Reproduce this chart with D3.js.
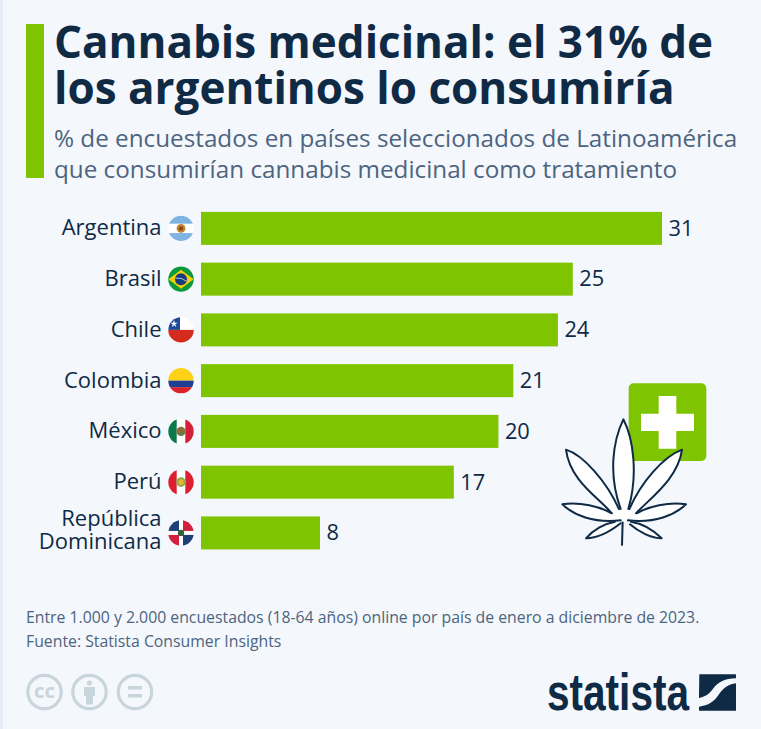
<!DOCTYPE html>
<html>
<head>
<meta charset="utf-8">
<style>
html, body { margin: 0; padding: 0; background: #f4f7fb; }
svg { display: block; font-family: "Open Sans", sans-serif; }
</style>
<script src="https://d3js.org/d3.v7.min.js"></script>
</head>
<body>
<svg id="chart" width="761" height="729"></svg>
<script>
// data
var countries = ["Argentina", "Brasil", "Chile", "Colombia", "México", "Perú", "República Dominicana"];
var values = [31, 25, 24, 21, 20, 17, 8];
var flagCodes = ["ar", "br", "cl", "co", "mx", "pe", "do"];
var titleLines = ["Cannabis medicinal: el 31% de", "los argentinos lo consumiría"];
var subtitleLines = ["% de encuestados en países seleccionados de Latinoamérica", "que consumirían cannabis medicinal como tratamiento"];
var noteLines = ["Entre 1.000 y 2.000 encuestados (18-64 años) online por país de enero a diciembre de 2023.", "Fuente: Statista Consumer Insights"];

var navy = "#0f2a45", green = "#7ec400", slate = "#4d6480";

var svg = d3.select("#chart");
svg.append("rect").attr("width", 761).attr("height", 729).attr("fill", "#f4f7fb");
svg.append("rect").attr("width", 3).attr("height", 729).attr("fill", "#e6ecf5");

// header
svg.append("rect").attr("x", 26).attr("y", 24).attr("width", 18).attr("height", 154).attr("fill", green);
svg.selectAll(".title").data(titleLines).enter().append("text")
    .attr("class", "title")
    .attr("x", 54)
    .attr("y", function(d, i) { return 58 + i * 46; })
    .attr("font-size", 44)
    .attr("font-weight", 700)
    .attr("fill", navy)
    .text(function(d) { return d; });
svg.selectAll(".subtitle").data(subtitleLines).enter().append("text")
    .attr("class", "subtitle")
    .attr("x", 54)
    .attr("y", function(d, i) { return 147 + i * 31; })
    .attr("font-size", 24.25)
    .attr("fill", slate)
    .text(function(d) { return d; });

// bars
var x = d3.scaleLinear().domain([0, 31]).range([201, 662]);
var y = d3.scaleBand().domain(countries).range([203, 558.3]).paddingInner(0.35).paddingOuter(0.175);

svg.selectAll(".bar").data(countries).enter().append("rect")
    .attr("class", "bar")
    .attr("x", x(0))
    .attr("y", function(d) { return y(d); })
    .attr("width", function(d, i) { return x(values[i]) - x(0); })
    .attr("height", y.bandwidth())
    .attr("fill", green);

svg.selectAll(".value").data(countries).enter().append("text")
    .attr("class", "value")
    .attr("x", function(d, i) { return x(values[i]) + 6.5; })
    .attr("y", function(d) { return y(d) + y.bandwidth() / 2 - 0.5; })
    .attr("dy", "0.36em")
    .attr("font-size", 21.8)
    .attr("fill", navy)
    .text(function(d, i) { return values[i]; });

// category labels, the long one goes on two lines
svg.selectAll(".cat").data(countries).enter().append("text")
    .attr("class", "cat")
    .attr("text-anchor", "end")
    .attr("font-size", 22)
    .attr("fill", navy)
    .each(function(d) {
        var parts = d.length > 12 ? d.split(" ") : [d];
        var mid = y(d) + y.bandwidth() / 2 + (parts.length > 1 ? -3 : -0.5);
        var sel = d3.select(this);
        parts.forEach(function(p, i) {
            sel.append("tspan")
                .attr("x", 161.5)
                .attr("y", mid + 7.5 + (i - (parts.length - 1) / 2) * 23)
                .text(p);
        });
    });

// flags
var defs = svg.append("defs");
defs.append("clipPath").attr("id", "flagClip").append("circle").attr("r", 12.7);

function band(g, color, bx, by, w, h) {
    g.append("rect").attr("x", bx).attr("y", by).attr("width", w).attr("height", h).attr("fill", color);
}
function dot(g, color, r, cx, cy) {
    g.append("circle").attr("cx", cx || 0).attr("cy", cy || 0).attr("r", r).attr("fill", color);
}
var flagDraw = {
    ar: function(g) {
        band(g, "#fff", -13, -13, 26, 26);
        band(g, "#7eb3e2", -13, -13, 26, 8.3);
        band(g, "#7eb3e2", -13, 4.7, 26, 9);
        dot(g, "#c9822a", 4.4);
        dot(g, "#8a4a1c", 2.2);
    },
    br: function(g) {
        band(g, "#0a9a3c", -13, -13, 26, 26);
        g.append("path").attr("d", "M-12.5,0L0,-9.5L12.5,0L0,9.5Z").attr("fill", "#f6d000");
        dot(g, "#173a80", 6);
        g.append("path").attr("d", "M-5.5,-1Q0,-2 5.5,2").attr("fill", "none").attr("stroke", "#dfe8f0").attr("stroke-width", 0.8);
    },
    cl: function(g) {
        band(g, "#fff", -13, -13, 26, 13);
        band(g, "#d52b1e", -13, 0, 26, 13);
        band(g, "#1c4a9c", -13, -13, 12, 13);
        g.append("path").attr("d", d3.symbol().type(d3.symbolStar).size(16)()).attr("transform", "translate(-7,-6)").attr("fill", "#fff");
    },
    co: function(g) {
        band(g, "#fcd116", -13, -13, 26, 13);
        band(g, "#1f3f94", -13, 0, 26, 6.5);
        band(g, "#d8232a", -13, 6.5, 26, 6.5);
    },
    mx: function(g) {
        band(g, "#fff", -13, -13, 26, 26);
        band(g, "#0b7a4b", -13, -13, 8.7, 26);
        band(g, "#d31f38", 4.3, -13, 8.7, 26);
        dot(g, "#8d6b3a", 4.6);
        dot(g, "#4f8a4a", 2, 0, 2.5);
    },
    pe: function(g) {
        band(g, "#fff", -13, -13, 26, 26);
        band(g, "#dc1f30", -13, -13, 8.7, 26);
        band(g, "#dc1f30", 4.3, -13, 8.7, 26);
        dot(g, "#8cae4a", 4.8);
        dot(g, "#eab030", 2.6);
    },
    "do": function(g) {
        band(g, "#fff", -13, -13, 26, 26);
        band(g, "#1f3f78", -13, -13, 11, 11);
        band(g, "#d21f3c", 2, -13, 11, 11);
        band(g, "#d21f3c", -13, 2, 11, 11);
        band(g, "#1f3f78", 2, 2, 11, 11);
        dot(g, "#35603a", 3.2);
    }
};
svg.selectAll(".flag").data(countries).enter().append("g")
    .attr("class", "flag")
    .attr("transform", function(d) { return "translate(181," + (y(d) + y.bandwidth() / 2) + ")"; })
    .attr("clip-path", "url(#flagClip)")
    .each(function(d, i) { flagDraw[flagCodes[i]](d3.select(this)); });

// cross + leaf, traced at 3x
var icon = svg.append("g").attr("transform", "translate(550,375) scale(0.3333)");
icon.append("rect").attr("x", 236).attr("y", 25).attr("width", 233).attr("height", 233).attr("rx", 15).attr("fill", green);
icon.append("path").attr("d", "M326,63H379V116H432V168H379V221H326V168H273V116H326Z").attr("fill", "#fff");
icon.append("path").attr("d", "M190,415L218,385L250,415L218,445Z").attr("fill", "#fff");
var leaves = [
    "M212,402C175,300 188,200 220,133C250,190 265,300 235,402",
    "M207,402C170,320 100,240 48,224C60,320 150,370 185,415",
    "M238,402C275,320 340,245 396,224C385,310 300,370 258,415",
    "M185,415C150,395 90,380 37,388C70,420 130,445 212,436",
    "M260,415C295,395 355,380 408,388C375,420 315,445 234,436",
    "M195,440C165,445 130,465 108,490C140,490 180,470 212,445",
    "M243,440C275,445 310,465 335,490C305,490 265,470 240,448"
];
icon.selectAll(".leaf").data(leaves).enter().append("path")
    .attr("class", "leaf")
    .attr("d", function(d) { return d; })
    .attr("fill", "#fff")
    .attr("stroke", navy)
    .attr("stroke-width", 6)
    .attr("stroke-linejoin", "round")
    .attr("stroke-linecap", "round");
icon.append("path").attr("d", "M218,440L216,512").attr("stroke", navy).attr("stroke-width", 6).attr("fill", "none");

// footnote
svg.selectAll(".note").data(noteLines).enter().append("text")
    .attr("class", "note")
    .attr("x", 26)
    .attr("y", function(d, i) { return 623 + i * 24; })
    .attr("font-size", 15.8)
    .attr("fill", slate)
    .text(function(d) { return d; });

// cc icons
var ccGrey = "#c9d5dc";
var cc = svg.append("g").attr("fill", "none").attr("stroke", ccGrey).attr("stroke-width", 3.2);
[44.5, 89.5, 135].forEach(function(cx) {
    cc.append("circle").attr("cx", cx).attr("cy", 692).attr("r", 16.7);
});
svg.append("text").attr("x", 44.5).attr("y", 698).attr("text-anchor", "middle")
    .attr("font-size", 16).attr("font-weight", 800).attr("fill", ccGrey).text("CC");
svg.append("circle").attr("cx", 89.5).attr("cy", 683).attr("r", 2.6).attr("fill", ccGrey);
svg.append("rect").attr("x", 84).attr("y", 687).attr("width", 11).attr("height", 9).attr("fill", ccGrey);
svg.append("rect").attr("x", 86).attr("y", 695).attr("width", 7).attr("height", 9.5).attr("fill", ccGrey);
svg.append("rect").attr("x", 128).attr("y", 686).attr("width", 14).attr("height", 3.5).attr("fill", ccGrey);
svg.append("rect").attr("x", 128).attr("y", 694).attr("width", 14).attr("height", 3.5).attr("fill", ccGrey);

// statista logo
svg.append("text").attr("x", 547).attr("y", 710)
    .attr("font-family", "'Liberation Sans Narrow', 'Liberation Sans', sans-serif")
    .attr("font-size", 52).attr("font-weight", 700).attr("fill", navy)
    .attr("textLength", 142).attr("lengthAdjust", "spacingAndGlyphs")
    .text("statista");
svg.append("path").attr("transform", "translate(530,660) scale(0.3333)")
    .attr("d", "M508,43H618V55C585,55 565,65 548,88C535,105 525,110 507,114Z M618,70V152H507V140C535,137 553,125 567,103C580,85 595,72 618,70Z")
    .attr("fill", navy);
</script>
</body>
</html>
